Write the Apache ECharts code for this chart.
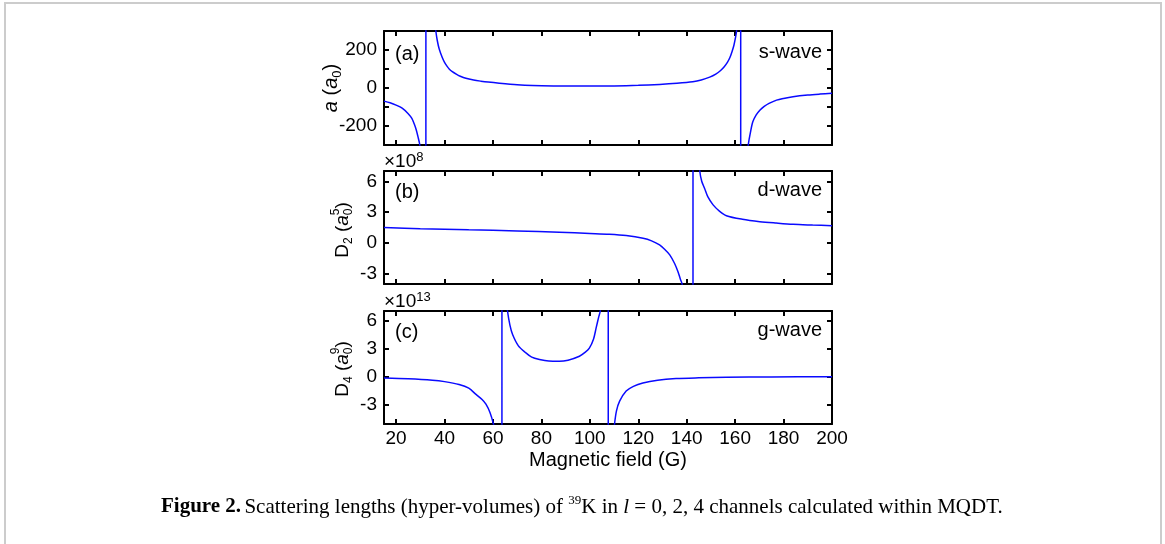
<!DOCTYPE html>
<html><head><meta charset="utf-8">
<script src="https://cdn.jsdelivr.net/npm/echarts@6/dist/echarts.min.js"></script>
<style>html,body{margin:0;padding:0;background:#fff}#c{width:1165px;height:544px}</style>
</head><body><div id="c"></div>
<script>
// ---------- data ----------
const fieldTicks = [20, 40, 60, 80, 100, 120, 140, 160, 180, 200];
const aTicks = [-200, -100, 0, 100, 200];
const aLabels = [-200, 0, 200];
const dTicks = [-3, 0, 3, 6];

// (a) s-wave scattering length a (a0) vs magnetic field (G)
const sField = [15, 17.5, 20, 22.5, 25, 26.5, 27.5, 28.3, 29, 29.8, 30.5, 32.2, 32.4, 35.5, 36.4, 37, 37.8, 39.1, 40, 41, 42, 43.2, 45, 46.5, 48.8, 52, 55, 58, 62.6, 70, 76.3, 85, 100, 110, 120, 128.8, 136, 142.5, 146, 149.5, 152, 154, 155.5, 156.8, 157.8, 158.8, 159.5, 160.1, 160.6, 161.2, 162.2, 162.4, 164.5, 165.4, 166.3, 167.3, 168.7, 170.2, 172, 174, 177.1, 180, 183.9, 190, 195, 200];
const sValue = [-69, -78, -90, -106, -135, -160, -190, -220, -255, -300, -370, -20000, 20000, 400, 300, 250, 205, 159, 135, 115, 99, 86, 72, 62, 51, 42, 36, 31, 25, 17, 13, 11, 10, 11, 14, 19, 25, 33, 42, 57, 73, 92, 112, 135, 159, 195, 225, 262, 300, 400, 20000, -20000, -400, -300, -235, -178, -142, -117, -97, -81, -64, -55, -46, -37, -32, -28];

// (b) d-wave hyper-volume D2 (x1e8 a0^5)
const dField = [15, 30, 50, 70, 87.4, 100, 108, 115, 122, 125.5, 128.8, 131, 133, 135, 136.4, 137.5, 138.1, 139, 142.5, 142.7, 144.5, 145.4, 146.2, 147.4, 148.7, 150.9, 153.5, 156.4, 163, 170.2, 177, 183.9, 192, 200];
const dValue = [1.49, 1.38, 1.27, 1.17, 1.04, 0.92, 0.84, 0.71, 0.45, 0.2, -0.2, -0.65, -1.16, -2.0, -2.8, -3.6, -4, -5.5, -500, 500, 10, 7, 6, 5.3, 4.5, 3.7, 3.1, 2.65, 2.3, 2.07, 1.93, 1.81, 1.74, 1.68];

// (c) g-wave hyper-volume D4 (x1e13 a0^9)
const gField = [15, 25, 35, 40, 46, 50, 53, 55.5, 57.1, 58.8, 60.2, 61, 63.6, 63.8, 65.2, 66, 67, 68.1, 70.5, 73.6, 76, 79.2, 83, 87.4, 91, 95.7, 98, 99.8, 101.5, 102.6, 103.6, 104.3, 105, 107.5, 107.7, 109.5, 110.2, 111, 112.3, 115, 118, 121.9, 128, 135.6, 145, 156.4, 175, 200];
const gValue = [-0.12, -0.2, -0.35, -0.5, -0.81, -1.2, -1.86, -2.4, -2.9, -3.8, -5, -6, -500, 500, 9, 7, 5.5, 4.5, 3.3, 2.55, 2.1, 1.85, 1.68, 1.66, 1.78, 2.2, 2.6, 3.05, 4.0, 5.2, 6.3, 7, 9, 500, -500, -7, -5, -3.6, -2.57, -1.5, -1.0, -0.64, -0.35, -0.18, -0.1, -0.04, 0, 0.03];

// ---------- chart ----------
const FONT = 'Liberation Sans, Arial, sans-serif';
const SERIF = 'Liberation Serif, serif';
const BLUE = '#0a0aff';
const pair = (xs, ys) => xs.map((x, i) => [x, ys[i]]);

const grids = [
  { left: 384, top: 31, width: 448, height: 114 },
  { left: 384, top: 171, width: 448, height: 113 },
  { left: 384, top: 311, width: 448, height: 113 }
];

function xAx(gi, pos, showLabels) {
  const ax = {
    type: 'value', gridIndex: gi, position: pos, min: 15, max: 200,
    axisLine: { show: true, onZero: false, lineStyle: { color: '#000', width: 2 } },
    axisTick: { show: true, inside: true, length: 5, lineStyle: { color: '#000', width: 2 }, customValues: fieldTicks },
    axisLabel: { show: showLabels, customValues: fieldTicks, color: '#000', fontFamily: FONT, fontSize: 19, margin: 5 },
    splitLine: { show: false }
  };
  if (showLabels) {
    ax.name = 'Magnetic field (G)';
    ax.nameLocation = 'middle';
    ax.nameGap = 26;
    ax.nameTextStyle = { color: '#000', fontFamily: FONT, fontSize: 20 };
  }
  return ax;
}

function yAx(gi, pos, min, max, ticks, labels) {
  return {
    type: 'value', gridIndex: gi, position: pos, min: min, max: max,
    axisLine: { show: true, onZero: false, lineStyle: { color: '#000', width: 2 } },
    axisTick: { show: true, inside: true, length: 5, lineStyle: { color: '#000', width: 2 }, customValues: ticks },
    axisLabel: { show: pos === 'left', customValues: labels, color: '#000', fontFamily: FONT, fontSize: 19, margin: 7 },
    splitLine: { show: false }
  };
}

// rotated axis-title built from pieces (sub/superscripts, stacked indices)
const measureCtx = document.createElement('canvas').getContext('2d');
function rotTitle(cx, cy, size, pieces) {
  const small = Math.round(size * 0.65);
  const fonts = {
    n: size + 'px ' + FONT,
    i: 'italic ' + size + 'px ' + FONT,
    sub: small + 'px ' + FONT,
    sup: small + 'px ' + FONT
  };
  const dys = { n: 0, i: 0, sub: size * 0.32, sup: -size * 0.36 };
  let x = 0, stackStart = null, stackW = 0;
  const kids = [];
  pieces.forEach(p => {
    measureCtx.font = fonts[p.s];
    const w = measureCtx.measureText(p.t).width;
    let px = x;
    if (p.stackWithPrev) { px = stackStart; }
    kids.push({ type: 'text', x: px, y: dys[p.s], silent: true,
      style: { text: p.t, font: fonts[p.s], fill: '#000', textAlign: 'left', textVerticalAlign: 'middle' } });
    if (p.stackWithPrev) {
      x = stackStart + Math.max(stackW, w);
    } else {
      stackStart = x; stackW = w; x += w;
    }
  });
  kids.forEach(k => { k.x -= x / 2; });
  return { type: 'group', x: cx, y: cy, rotation: Math.PI / 2, silent: true, children: kids };
}

const chart = echarts.init(document.getElementById('c'), null, { renderer: 'canvas' });

const label = (t, x, y, align) => ({
  type: 'text', x: x, y: y, silent: true,
  style: { text: t, fill: '#000', font: '20px ' + FONT, textAlign: align, textVerticalAlign: 'middle' }
});

const richSci = {
  xn: { fontFamily: FONT, fontSize: 19, color: '#000', lineHeight: 22 },
  xs: { fontFamily: FONT, fontSize: 13, color: '#000', lineHeight: 10, verticalAlign: 'top' }
};

const option = {
  animation: false,
  backgroundColor: '#fff',
  grid: grids,
  xAxis: [
    xAx(0, 'bottom', false), xAx(0, 'top', false),
    xAx(1, 'bottom', false), xAx(1, 'top', false),
    xAx(2, 'bottom', true), xAx(2, 'top', false)
  ],
  yAxis: [
    yAx(0, 'left', -300, 300, aTicks, aLabels),
    yAx(0, 'right', -300, 300, aTicks, aLabels),
    yAx(1, 'left', -4, 7, dTicks, dTicks),
    yAx(1, 'right', -4, 7, dTicks, dTicks),
    yAx(2, 'left', -5, 7, dTicks, dTicks),
    yAx(2, 'right', -5, 7, dTicks, dTicks)
  ],
  series: [
    { type: 'line', xAxisIndex: 0, yAxisIndex: 0, data: pair(sField, sValue), showSymbol: false, clip: true, smooth: 0.3, lineStyle: { color: BLUE, width: 1.5 } },
    { type: 'line', xAxisIndex: 2, yAxisIndex: 2, data: pair(dField, dValue), showSymbol: false, clip: true, smooth: 0.3, lineStyle: { color: BLUE, width: 1.5 } },
    { type: 'line', xAxisIndex: 4, yAxisIndex: 4, data: pair(gField, gValue), showSymbol: false, clip: true, smooth: 0.3, lineStyle: { color: BLUE, width: 1.5 } }
  ],
  graphic: [
    { type: 'rect', silent: true, shape: { x: 5, y: 3, width: 1156, height: 600 }, style: { fill: 'none', stroke: '#cccccc', lineWidth: 2 } },
    rotTitle(331, 88, 20, [{ t: 'a', s: 'i' }, { t: ' (', s: 'n' }, { t: 'a', s: 'i' }, { t: '0', s: 'sub' }, { t: ')', s: 'n' }]),
    rotTitle(343, 230, 19, [{ t: 'D', s: 'n' }, { t: '2', s: 'sub' }, { t: ' (', s: 'n' }, { t: 'a', s: 'i' }, { t: '0', s: 'sub' }, { t: '5', s: 'sup', stackWithPrev: true }, { t: ')', s: 'n' }]),
    rotTitle(343, 369, 19, [{ t: 'D', s: 'n' }, { t: '4', s: 'sub' }, { t: ' (', s: 'n' }, { t: 'a', s: 'i' }, { t: '0', s: 'sub' }, { t: '9', s: 'sup', stackWithPrev: true }, { t: ')', s: 'n' }]),
    label('(a)', 395, 54, 'left'),
    label('s-wave', 822, 52, 'right'),
    label('(b)', 395, 192, 'left'),
    label('d-wave', 822, 190, 'right'),
    label('(c)', 395, 332, 'left'),
    label('g-wave', 822, 330, 'right'),
    { type: 'text', x: 384, y: 162, silent: true,
      style: { text: '{xn|×10}{xs|8}', rich: richSci, textAlign: 'left', textVerticalAlign: 'middle' } },
    { type: 'text', x: 384, y: 302, silent: true,
      style: { text: '{xn|×10}{xs|13}', rich: richSci, textAlign: 'left', textVerticalAlign: 'middle' } },
    { type: 'text', x: 161, y: 507, silent: true,
      style: {
        text: '{b|Figure 2.} {r|Scattering lengths (hyper-volumes) of }{s|39}{r|K in }{it|l}{r| = 0, 2, 4 channels calculated within MQDT.}',
        textAlign: 'left', textVerticalAlign: 'middle',
        rich: {
          b: { fontFamily: SERIF, fontWeight: 'bold', fontSize: 21, color: '#000', lineHeight: 26 },
          r: { fontFamily: SERIF, fontSize: 21, color: '#000', lineHeight: 26 },
          it: { fontFamily: SERIF, fontStyle: 'italic', fontSize: 21, color: '#000', lineHeight: 26 },
          s: { fontFamily: SERIF, fontSize: 13, color: '#000', lineHeight: 14, verticalAlign: 'top' }
        }
      } }
  ]
};
chart.setOption(option);
</script>
</body></html>
